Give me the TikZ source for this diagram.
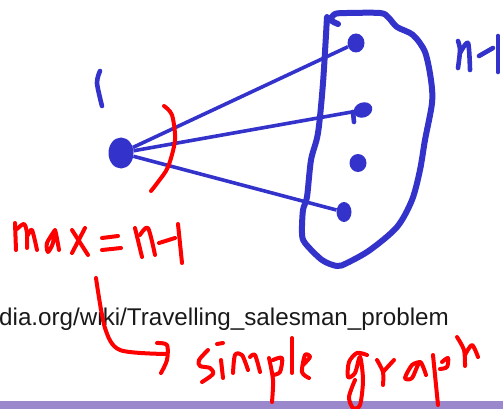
\documentclass[tikz,border=0pt]{standalone}
\usepackage{fontspec}
\setmainfont{Liberation Sans}
\usetikzlibrary{shapes.geometric, positioning}
\definecolor{ink_blue}{HTML}{3333CC}
\definecolor{ink_red}{HTML}{FF0000}
\definecolor{band_purple}{HTML}{9B88CC}
\begin{document}
\begin{tikzpicture}[
        x=1pt, y=-1pt,
        vertex/.style = {ellipse, fill=ink_blue, inner sep=0pt, minimum width=17pt, minimum height=19pt},
        edge_line/.style = {draw=ink_blue, line width=3.6pt},
        blue_ink/.style = {draw=ink_blue, line width=4.6pt, line cap=round, line join=round},
        blob_ink/.style = {draw=ink_blue, line width=6pt, line cap=round, line join=round},
        red_ink/.style = {draw=ink_red, line width=4pt, line cap=round, line join=round},
        url_text/.style = {font=\fontsize{24.2}{27}\selectfont, text=black!90, inner sep=0pt, anchor=base west}
    ]
    \useasboundingbox (0,0) rectangle (503,409);

    % Bottom band and url
    \fill [band_purple] (0,401) rectangle (503,409);
    \node [url_text] (url) at (-1,325) {dia.org/wiki/Travelling\_salesman\_problem};

    % Vertices
    \node [vertex, minimum width=25pt, minimum height=31pt] (start) at (121,153) {};
    \node [vertex] (v_top) at (356,43) {};
    \node [vertex, minimum height=15pt, minimum width=19pt, rotate=20] (v_second) at (363,110) {};
    \node [vertex, minimum height=18pt, minimum width=17pt] (v_third) at (358,163) {};
    \node [vertex, minimum width=15pt, minimum height=20pt] (v_last) at (344,212) {};

    % Edges
    \draw [edge_line] (start) -- (v_top);
    \draw [edge_line] (start) -- (v_second);
    \draw [edge_line] (start) -- (v_last);
    \draw [blue_ink] (353,112) -- (354,122);

    % Set outline
    \draw [blob_ink] plot [smooth] coordinates {(338,24) (331,20) (335,14) (347,13) (380,13) (388,17) (397,27) (413,35) (425,52) (431,80) (432,103) (425,140) (420,170) (412,200) (397,227) (370,250) (347,263) (337,266) (322,260) (305,243) (302,233) (303,210) (307,197) (311,160) (318,133) (323,83) (327,17)};

    % Blue handwriting
    \draw [blue_ink] plot [smooth] coordinates {(100,71) (97,83) (102,106)};
    \draw [blue_ink] plot [smooth] coordinates {(458,41) (460,50) (458,68)};
    \draw [blue_ink] plot [smooth] coordinates {(460,53) (468,43) (470,70)};
    \draw [blue_ink] (479,56) -- (493,48);
    \draw [blue_ink] (498,36) -- (498,72);

    % Red arc
    \draw [red_ink] plot [smooth] coordinates {(164,106) (172,115) (175,140) (168,167) (158,182) (151,191)};

    % max = n-1
    \draw [red_ink] (15,223) -- (16,250);
    \draw [red_ink] plot [smooth] coordinates {(17,229) (24,224) (27,233) (27,248)};
    \draw [red_ink] plot [smooth] coordinates {(28,235) (32,230) (37,250)};
    \draw [red_ink] plot [smooth] coordinates {(55,230) (47,243) (48,252) (53,243) (55,230) (59,250)};
    \draw [red_ink] (72,230) -- (88,255);
    \draw [red_ink] (85,228) -- (72,253);
    \draw [red_ink] (102,238) -- (118,236);
    \draw [red_ink] (102,250) -- (121,248);
    \draw [red_ink] (135,228) -- (142,257);
    \draw [red_ink] plot [smooth] coordinates {(140,235) (148,228) (155,255)};
    \draw [red_ink] (159,243) -- (175,238);
    \draw [red_ink] (178,224) -- (182,263);

    % Arrow
    \draw [red_ink] plot [smooth] coordinates {(96,278) (105,328) (120,350) (167,354)};
    \draw [red_ink] plot [smooth] coordinates {(157,343) (167,345) (167,360) (161,373)};

    % simple
    \draw [red_ink] plot [smooth] coordinates {(208,350) (199,360) (200,366) (210,368) (213,374) (202,382)};
    \draw [red_ink] (217,344) -- (223,343);
    \draw [red_ink] (221,360) -- (223,378);
    \draw [red_ink] plot [smooth] coordinates {(233,373) (235,355) (242,355) (248,370)};
    \draw [red_ink] plot [smooth] coordinates {(250,357) (255,355) (260,372)};
    \draw [red_ink] plot [smooth] coordinates {(269,358) (273,380) (272,402)};
    \draw [red_ink] plot [smooth] coordinates {(273,360) (282,358) (280,372) (273,375)};
    \draw [red_ink] (292,338) -- (292,373);
    \draw [red_ink] plot [smooth] coordinates {(303,365) (310,357) (305,355) (302,372) (309,378)};

    % graph
    \draw [red_ink] plot [smooth] coordinates {(367,355) (357,353) (349,362) (348,377) (355,373) (360,357) (363,380) (360,405) (353,408) (349,397) (355,380)};
    \draw [red_ink] plot [smooth] coordinates {(377,360) (383,372) (383,385)};
    \draw [red_ink] (383,372) -- (394,360);
    \draw [red_ink] plot [smooth] coordinates {(420,362) (412,365) (405,378) (412,378) (420,362) (426,375)};
    \draw [red_ink] (433,355) -- (438,405);
    \draw [red_ink] plot [smooth] coordinates {(442,362) (448,358) (447,367) (440,369)};
    \draw [red_ink] plot [smooth] coordinates {(457,337) (464,350) (465,366)};
    \draw [red_ink] plot [smooth] coordinates {(465,355) (472,345) (478,357)};

\end{tikzpicture}
\end{document}
